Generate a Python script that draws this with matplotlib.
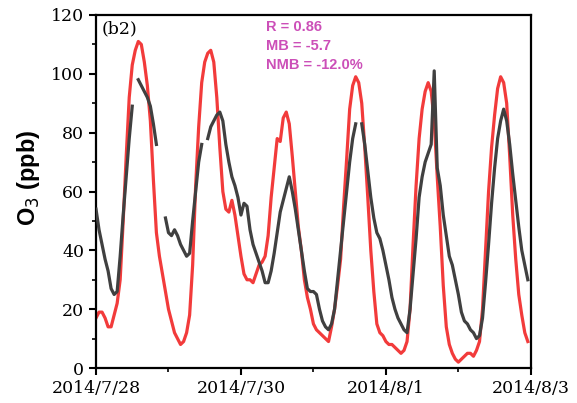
import numpy as np
import pandas as pd
import matplotlib
matplotlib.use('Agg')
import matplotlib.pyplot as plt

# hourly O3 (ppb), 2014/7/28 00:00 - 2014/8/2 23:00
obs = [54, 47, 42, 37, 33, 27, 25, 26, 38, 52, 65, 78, 89, np.nan, 98, 96, 94, 92, 89, 83, 76, np.nan, np.nan, 51,
       46, 45, 47, 45, 42, 40, 38, 39, 50, 60, 70, 76, np.nan, 78, 82, 84, 86, 87, 84, 76, 70, 65, 62, 58,
       52, 56, 55, 47, 42, 39, 36, 33, 29, 29, 33, 39, 46, 53, 57, 61, 65, 60, 54, 47, 40, 33, 27, 26,
       26, 25, 20, 16, 14, 13, 15, 20, 30, 40, 50, 60, 70, 78, 83, np.nan, 83, 76, 67, 58, 51, 46, 44, 40,
       35, 30, 24, 20, 17, 15, 13, 12, 20, 32, 44, 58, 65, 70, 73, 76, 101, 68, 62, 52, 45, 38, 35, 30,
       25, 19, 16, 15, 13, 12, 10, 11, 17, 29, 42, 56, 68, 78, 84, 88, 84, 76, 66, 57, 48, 40, 35, 30]
model = [17, 19, 19, 17, 14, 14, 18, 22, 30, 50, 72, 92, 103, 108, 111, 110, 104, 96, 84, 64, 46, 38, 32, 26,
         20, 16, 12, 10, 8, 9, 12, 18, 35, 62, 82, 97, 104, 107, 108, 104, 92, 75, 60, 54, 53, 57, 52, 45,
         38, 32, 30, 30, 29, 32, 35, 36, 38, 45, 58, 68, 78, 77, 85, 87, 83, 72, 60, 48, 40, 30, 24, 20,
         15, 13, 12, 11, 10, 9, 14, 20, 28, 37, 55, 71, 88, 96, 99, 97, 90, 75, 58, 40, 26, 15, 12, 11,
         9, 8, 8, 7, 6, 5, 6, 9, 20, 42, 62, 78, 88, 94, 97, 94, 84, 65, 48, 28, 14, 8, 5, 3,
         2, 3, 4, 5, 5, 4, 6, 9, 20, 40, 60, 75, 86, 95, 99, 97, 90, 72, 52, 37, 25, 18, 12, 9]
times = pd.date_range('2014-07-28 00:00', periods=len(obs), freq='h')

tick_days = pd.to_datetime(['2014-07-28', '2014-07-30', '2014-08-01', '2014-08-03'])
tick_labels = ['2014/7/28', '2014/7/30', '2014/8/1', '2014/8/3']
minor_days = pd.to_datetime(['2014-07-29', '2014-07-31', '2014-08-02'])

stats = ['R = 0.86', 'MB = -5.7', 'NMB = -12.0%']

fig = plt.figure(figsize=(5.77, 4.03), dpi=100)
ax = fig.add_axes([0.1664, 0.0868, 0.7536, 0.876])

ax.plot(times, model, color='#F23B3B', lw=2.3, zorder=2)
ax.plot(times, obs, color='#404040', lw=2.3, zorder=3)

ax.set_xlim(tick_days[0], tick_days[-1])
ax.set_ylim(0, 120)
ax.set_xticks(tick_days)
ax.set_xticklabels(tick_labels)
ax.set_xticks(minor_days, minor=True)
ax.set_yticks(np.arange(0, 121, 20))
ax.set_yticks(np.arange(10, 120, 20), minor=True)

for lab in ax.get_xticklabels() + ax.get_yticklabels():
    lab.set_fontfamily('DejaVu Serif')
    lab.set_fontsize(12.5)

ax.tick_params(which='major', direction='out', length=5, width=1.5, top=False, right=False)
ax.tick_params(which='minor', direction='out', length=3, width=1.2, top=False, right=False)
for sp in ax.spines.values():
    sp.set_linewidth(1.6)

ax.set_ylabel('O$_3$ (ppb)', fontsize=17, fontweight='bold', family='Liberation Sans')
ax.yaxis.set_label_coords(-0.125, 0.54)

ax.text(0.012, 0.985, '(b2)', transform=ax.transAxes, ha='left', va='top',
        family='DejaVu Serif', fontsize=12.5)
for i, s in enumerate(stats):
    ax.text(0.39, 0.985 - i * 0.054, s, transform=ax.transAxes, ha='left', va='top',
            family='Liberation Sans', fontweight='bold', fontsize=10.5, color='#CC4FB8')

fig.savefig('out.png', dpi=100)
